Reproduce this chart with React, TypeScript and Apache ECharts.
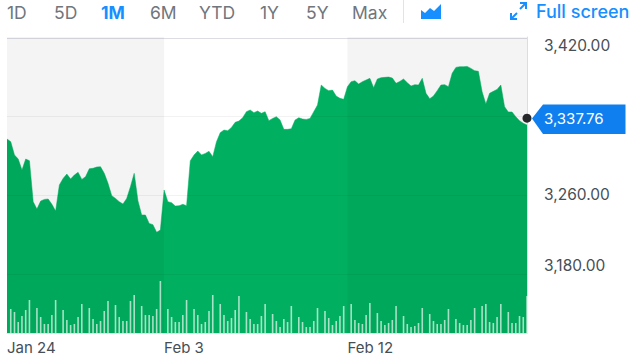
import React, { useEffect, useRef } from "react";
import * as echarts from "echarts";

const tabs = ["1D", "5D", "1M", "6M", "YTD", "1Y", "5Y", "Max"];
const tabLeft = [7, 54, 101, 150, 199, 260, 306, 352];
const days = ["Jan 24", "Jan 27", "Jan 28", "Jan 29", "Jan 30", "Jan 31", "Feb 3", "Feb 4", "Feb 5", "Feb 6", "Feb 7", "Feb 10", "Feb 11", "Feb 12", "Feb 13", "Feb 14", "Feb 18", "Feb 19", "Feb 20", "Feb 21"];
const labelledDays = ["Jan 24", "Feb 3", "Feb 12"];
const yTicks = [3180, 3260, 3340, 3420];
const lastPrice = 3337.76;

const prices = [
  3316.6, 3313.9, 3300.4, 3296.3, 3285.2, 3296.3, 3294.6,
  3253.1, 3245.6, 3253.7, 3255.4, 3255.8, 3250.4, 3243.6,
  3270.0, 3276.7, 3281.1, 3276.0, 3280.1, 3282.8, 3275.7,
  3278.4, 3286.5, 3286.9, 3288.2, 3288.5, 3281.8, 3271.7,
  3259.2, 3256.4, 3253.1, 3250.7, 3256.4, 3268.3, 3281.8,
  3254.1, 3239.6, 3239.6, 3231.1, 3229.8, 3222.0, 3224.4,
  3264.9, 3253.1, 3252.1, 3248.7, 3249.0, 3250.4, 3249.0,
  3294.6, 3300.4, 3304.4, 3300.4, 3302.0, 3304.1, 3298.7,
  3313.9, 3323.0, 3325.7, 3325.0, 3328.4, 3333.5, 3334.8,
  3338.2, 3344.3, 3346.0, 3343.3, 3345.0, 3342.6, 3344.3,
  3335.2, 3337.5, 3339.2, 3335.8, 3326.4, 3326.4, 3327.0,
  3335.8, 3338.2, 3336.8, 3336.5, 3337.5, 3344.3, 3351.0,
  3371.3, 3367.9, 3365.6, 3366.2, 3360.1, 3357.8, 3356.8,
  3369.6, 3374.7, 3375.7, 3372.3, 3374.7, 3376.4, 3378.1,
  3368.6, 3377.4, 3378.8, 3379.1, 3379.4, 3378.4, 3373.0,
  3375.0, 3377.4, 3373.7, 3370.3, 3371.7, 3371.3, 3378.1,
  3362.9, 3357.5, 3360.2, 3365.6, 3371.3, 3371.7, 3369.6,
  3383.2, 3389.2, 3389.9, 3389.9, 3390.2, 3388.2, 3385.9,
  3385.2, 3364.6, 3352.1, 3362.9, 3364.9, 3366.9, 3371.3,
  3349.4, 3344.0, 3344.0, 3339.2, 3335.2, 3332.5, 3330.8,
];

const dailyVolumes = [
  [24, 21, 11, 17, 23, 33],
  [25, 16, 9, 9, 18, 33],
  [23, 13, 8, 9, 16, 29],
  [25, 14, 9, 12, 22, 32],
  [28, 16, 12, 12, 32, 38],
  [27, 18, 18, 17, 24, 52],
  [24, 16, 11, 11, 18, 33],
  [24, 18, 9, 11, 22, 38],
  [29, 18, 12, 15, 23, 37],
  [21, 14, 9, 9, 17, 29],
  [19, 12, 6, 14, 11, 27],
  [16, 11, 6, 6, 12, 25],
  [22, 15, 8, 12, 17, 27],
  [29, 13, 10, 9, 18, 30],
  [20, 12, 8, 10, 13, 27],
  [17, 9, 6, 7, 10, 25],
  [19, 12, 9, 9, 13, 24],
  [14, 10, 8, 8, 13, 25],
  [27, 29, 11, 10, 16, 29],
  [21, 10, 10, 17, 16, 37],
];

const categories = days.flatMap((d) => Array.from({ length: 7 }, (_, s) => (s === 0 ? d : `${d} #${s}`)));
const volumes = dailyVolumes.flatMap((v) => [null, ...v]);

const FONT = "Inter";
const BLUE = "#188fff";
const GREY = "#6f767d";
const INK = "#464e56";
const GREEN = "#00b060";
const AXIS_SIZE = 15.5;

echarts.graphic.registerShape(
  "areaIcon",
  echarts.graphic.extendPath("M0 6 L4 9 L9 4 L13 7 L20 0 L20 15 L0 15 Z", {}) as any,
);

export default function App() {
  const ref = useRef<HTMLDivElement>(null);
  useEffect(() => {
    document.body.style.margin = "0";
    const chart = echarts.init(ref.current!, undefined, { renderer: "svg" });
    const tabText = tabs.map((t, i) => ({
      type: "text",
      x: tabLeft[i],
      y: 12,
      style: {
        text: t,
        font: `${t === "1M" ? "700" : "400"} 17.5px ${FONT}`,
        fill: t === "1M" ? BLUE : GREY,
        textVerticalAlign: "middle",
      },
    }));
    chart.setOption({
      animation: false,
      backgroundColor: "#fff",
      grid: { left: 7, right: 113, top: 37, height: 296 },
      xAxis: {
        type: "category",
        data: categories,
        boundaryGap: false,
        axisTick: { show: false },
        axisLine: { show: true, lineStyle: { color: "#e3e3ea", width: 1 } },
        axisLabel: {
          interval: (i: number, v: string) => labelledDays.includes(v),
          formatter: (v: string) => v,
          align: "left",
          margin: 7,
          color: INK,
          fontFamily: FONT,
          fontSize: 15,
          hideOverlap: false,
        },
      },
      yAxis: [
        {
          type: "value",
          position: "right",
          min: 3120,
          max: 3420,
          axisLine: { show: true, lineStyle: { color: "#dcdce4", width: 1 } },
          axisTick: { show: false, customValues: yTicks },
          splitLine: { show: false },
          axisLabel: {
            customValues: yTicks,
            margin: 17,
            formatter: (v: number) => {
              if (v === 3340) return "";
              const s = v.toLocaleString("en-US", { minimumFractionDigits: 2 });
              return v === 3420 ? `{d|${s}}` : v === 3180 ? `{u|${s}}` : s;
            },
            color: INK,
            fontFamily: FONT,
            fontSize: AXIS_SIZE,
            rich: {
              d: { padding: [16, 0, 0, 0], color: INK, fontFamily: FONT, fontSize: AXIS_SIZE },
              u: { padding: [0, 0, 16, 0], color: INK, fontFamily: FONT, fontSize: AXIS_SIZE },
            },
          },
        },
        { type: "value", min: 0, max: 296, show: false, splitLine: { show: false } },
      ],
      series: [
        {
          name: "Price",
          type: "line",
          z: 2,
          data: prices,
          showSymbol: false,
          silent: true,
          lineStyle: { width: 0.5, color: GREEN },
          itemStyle: { color: GREEN },
          areaStyle: { color: GREEN, opacity: 1 },
          markArea: {
            silent: true,
            z: 3,
            itemStyle: { color: "rgba(0,0,0,0.043)" },
            data: [
              [{ xAxis: "Jan 24" }, { xAxis: "Feb 3" }],
              [{ xAxis: "Feb 12" }, { xAxis: categories[categories.length - 1] }],
            ],
          },
          markLine: {
            silent: true,
            z: 3,
            symbol: "none",
            label: { show: false },
            lineStyle: { color: "rgba(0,0,0,0.05)", width: 1, type: "solid" },
            data: yTicks.slice(0, 3).map((v) => ({ yAxis: v })),
          },
          markPoint: {
            silent: true,
            z: 6,
            symbol: "circle",
            symbolSize: 9,
            itemStyle: { color: "#26282a" },
            label: { show: false },
            data: [{ coord: [categories[categories.length - 1], lastPrice] }],
          },
        },
        {
          name: "Volume",
          type: "bar",
          z: 5,
          yAxisIndex: 1,
          data: volumes,
          barWidth: 1.6,
          silent: true,
          itemStyle: { color: "rgba(255,255,255,0.65)" },
        },
      ],
      graphic: [
        ...tabText,
        { type: "line", shape: { x1: 403.5, y1: 0, x2: 403.5, y2: 23 }, style: { stroke: "#e3e3e6", lineWidth: 1 } },
        { type: "areaIcon", x: 421, y: 4, style: { fill: BLUE } },
        { type: "polyline", shape: { points: [[520, 3], [526, 3], [526, 9]] }, style: { stroke: BLUE, lineWidth: 2, fill: "none" } },
        { type: "line", shape: { x1: 526, y1: 3, x2: 520, y2: 9 }, style: { stroke: BLUE, lineWidth: 2 } },
        { type: "polyline", shape: { points: [[511, 13], [511, 19], [517, 19]] }, style: { stroke: BLUE, lineWidth: 2, fill: "none" } },
        { type: "line", shape: { x1: 511, y1: 19, x2: 517, y2: 13 }, style: { stroke: BLUE, lineWidth: 2 } },
        {
          type: "text",
          x: 536,
          y: 11,
          style: { text: "Full screen", font: `500 18px ${FONT}`, fill: BLUE, textVerticalAlign: "middle" },
        },
        { type: "line", shape: { x1: 7, y1: 38.5, x2: 527, y2: 38.5 }, style: { stroke: "#dcdce4", lineWidth: 1 } },
        {
          type: "polygon",
          shape: { points: [[532, 118.5], [543, 104.5], [625.5, 104.5], [625.5, 134], [543, 134]] },
          style: { fill: "#0f7ff0" },
        },
        {
          type: "text",
          x: 544,
          y: 118.5,
          style: { text: lastPrice.toLocaleString("en-US"), font: `400 15px ${FONT}`, fill: "#fff", textVerticalAlign: "middle" },
        },
      ],
    });
    return () => chart.dispose();
  }, []);
  return <div ref={ref} style={{ width: 640, height: 359 }} />;
}
